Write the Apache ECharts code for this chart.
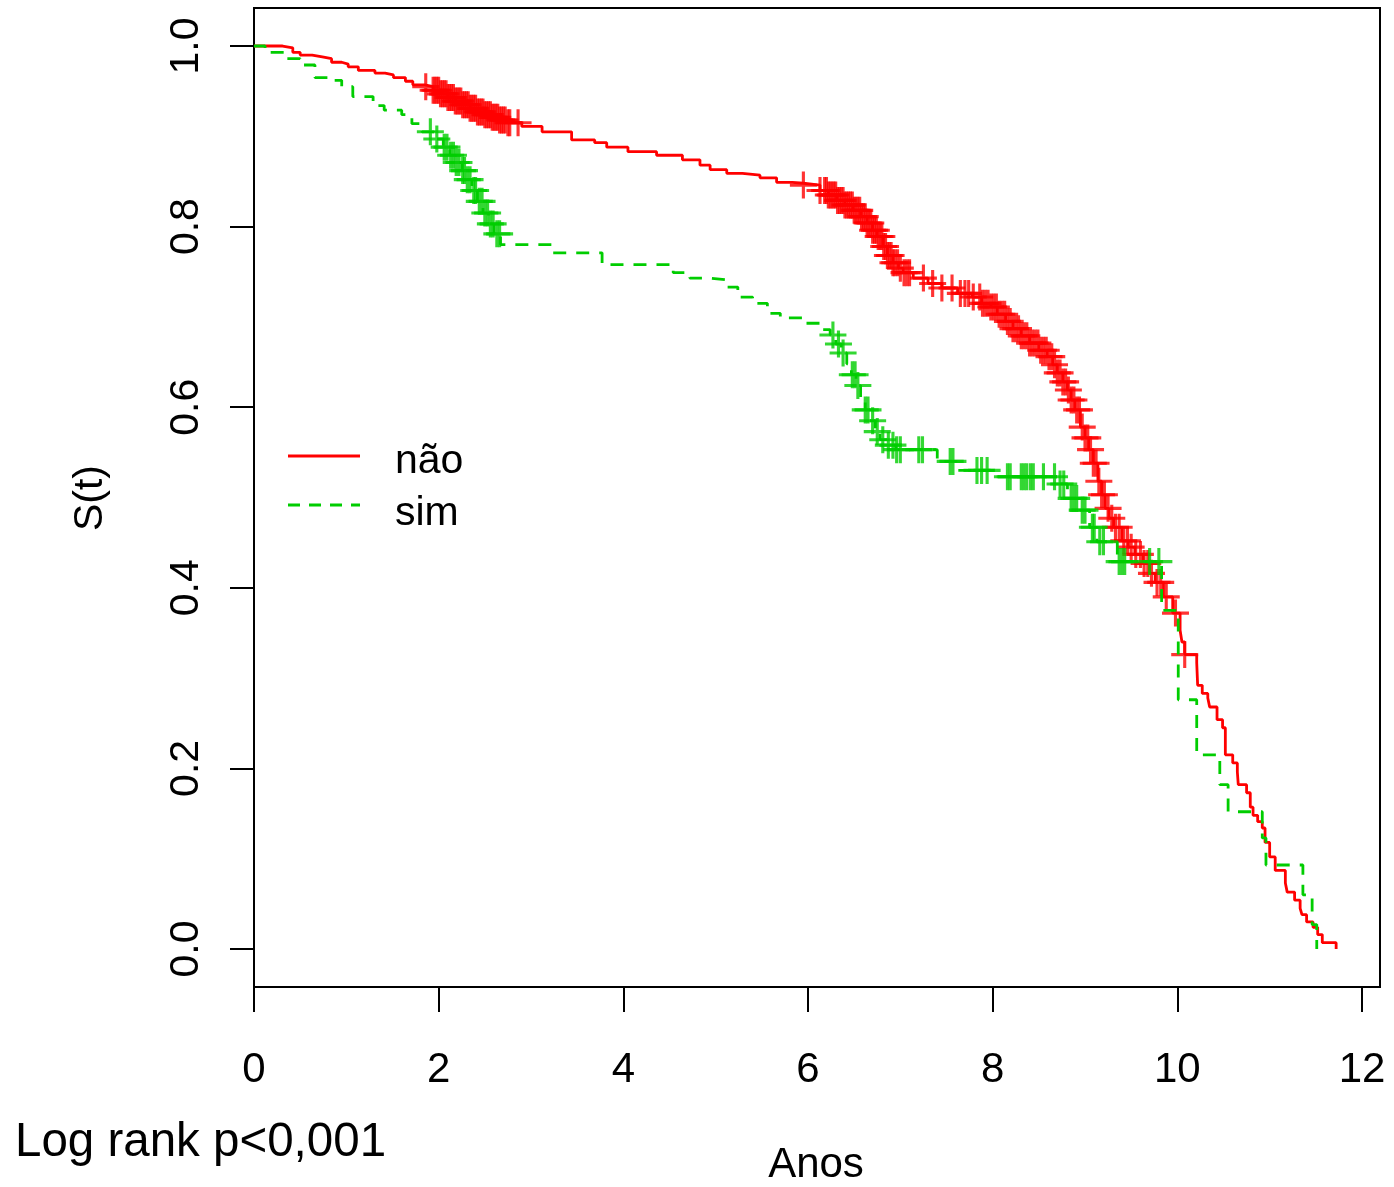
<!DOCTYPE html>
<html>
<head>
<meta charset="utf-8">
<script src="https://cdn.jsdelivr.net/npm/echarts@6/dist/echarts.min.js"></script>
<style>
html,body{margin:0;padding:0;background:#fff;}
#chart{width:1394px;height:1187px;}
</style>
</head>
<body>
<div id="chart"></div>
<script>
// ---- Data ----
var xTicks = [0, 2, 4, 6, 8, 10, 12];
var yTicks = [0, 0.2, 0.4, 0.6, 0.8, 1.0];
var groupNames = ['não', 'sim'];

// Kaplan-Meier steps, group "não"
var naoTime = [0,0.31,0.42,0.50,0.63,0.74,0.84,0.95,1.02,1.13,1.31,1.42,1.51,1.64,1.72,1.85,1.94,2.02,2.10,2.18,2.26,2.34,2.42,2.50,2.58,2.66,2.74,2.90,3.12,3.44,3.69,3.82,4.05,4.36,4.64,4.83,4.94,5.12,5.29,5.48,5.66,5.83,5.95,6.13,6.22,6.31,6.40,6.49,6.57,6.64,6.70,6.75,6.81,6.86,6.92,6.98,7.03,7.14,7.30,7.45,7.62,7.78,7.88,7.98,8.05,8.14,8.22,8.31,8.40,8.50,8.59,8.65,8.70,8.76,8.81,8.85,8.89,8.95,9.00,9.04,9.09,9.14,9.18,9.22,9.26,9.31,9.40,9.47,9.54,9.63,9.70,9.76,9.85,9.95,10.03,10.05,10.08,10.21,10.22,10.27,10.33,10.35,10.43,10.49,10.52,10.60,10.65,10.66,10.75,10.79,10.82,10.87,10.92,10.95,11.00,11.06,11.17,11.19,11.27,11.33,11.35,11.40,11.47,11.52,11.57,11.72];
var naoSurv = [1,0.998,0.993,0.990,0.988,0.986,0.982,0.980,0.977,0.973,0.970,0.968,0.965,0.961,0.957,0.955,0.951,0.947,0.943,0.939,0.935,0.931,0.927,0.924,0.921,0.918,0.915,0.911,0.905,0.896,0.893,0.888,0.883,0.879,0.874,0.868,0.863,0.859,0.857,0.854,0.849,0.848,0.846,0.840,0.835,0.829,0.824,0.818,0.811,0.804,0.796,0.789,0.778,0.768,0.760,0.754,0.749,0.743,0.737,0.732,0.726,0.722,0.715,0.711,0.703,0.695,0.687,0.679,0.671,0.663,0.656,0.647,0.638,0.628,0.619,0.608,0.597,0.578,0.566,0.553,0.538,0.518,0.503,0.488,0.477,0.467,0.452,0.445,0.437,0.427,0.416,0.406,0.390,0.372,0.353,0.340,0.326,0.317,0.292,0.283,0.278,0.268,0.254,0.245,0.215,0.206,0.196,0.182,0.173,0.157,0.148,0.141,0.134,0.118,0.102,0.087,0.073,0.063,0.054,0.045,0.038,0.030,0.024,0.016,0.007,0.000];

// Kaplan-Meier steps, group "sim"
var simTime = [0,0.12,0.36,0.50,0.66,0.80,0.95,1.07,1.29,1.41,1.60,1.71,1.82,1.95,2.05,2.12,2.18,2.25,2.30,2.36,2.42,2.48,2.54,2.60,2.67,3.23,3.77,4.54,4.72,4.92,5.12,5.24,5.40,5.56,5.70,5.94,6.13,6.24,6.30,6.36,6.42,6.47,6.52,6.57,6.62,6.67,6.73,6.78,6.86,6.95,7.40,7.62,8.02,8.70,8.81,8.95,9.05,9.13,9.35,9.83,10.01,10.21,10.46,10.55,10.92,10.96,11.36,11.46,11.51];
var simSurv = [1,0.993,0.986,0.979,0.965,0.962,0.955,0.944,0.934,0.929,0.924,0.914,0.905,0.897,0.888,0.879,0.871,0.862,0.852,0.840,0.828,0.815,0.803,0.792,0.780,0.771,0.758,0.749,0.743,0.741,0.733,0.722,0.715,0.704,0.699,0.693,0.686,0.680,0.670,0.660,0.648,0.636,0.624,0.611,0.597,0.585,0.573,0.564,0.558,0.553,0.540,0.530,0.523,0.515,0.499,0.486,0.467,0.451,0.429,0.375,0.276,0.215,0.182,0.152,0.123,0.093,0.060,0.027,0.000];

// censoring times
var naoCensor = [1.86,1.94,1.96,1.98,2.00,2.02,2.04,2.06,2.08,2.10,2.12,2.14,2.16,2.18,2.20,2.22,2.24,2.26,2.28,2.30,2.32,2.34,2.36,2.38,2.40,2.42,2.44,2.46,2.48,2.50,2.52,2.54,2.56,2.58,2.60,2.62,2.64,2.66,2.68,2.70,2.72,2.75,2.77,2.86,
  5.95,6.13,6.18,6.20,6.22,6.24,6.26,6.28,6.30,6.32,6.34,6.36,6.38,6.40,6.42,6.44,6.46,6.48,6.50,6.52,6.54,6.56,6.58,6.60,6.62,6.64,6.66,6.68,6.70,6.72,6.74,6.76,6.78,6.80,6.82,6.84,6.86,6.88,6.90,6.92,6.94,6.97,7.00,7.04,7.07,7.10,7.25,
  7.35,7.45,7.56,7.65,7.70,7.74,7.79,7.86,7.89,7.92,7.95,7.98,8.01,8.04,8.07,8.10,8.13,8.16,8.19,8.22,8.25,8.28,8.31,8.34,8.37,8.40,8.43,8.46,8.49,8.52,8.55,8.58,8.61,8.64,8.67,8.70,8.73,8.76,8.79,8.82,8.85,8.88,8.91,8.94,8.97,9.00,9.03,9.06,9.09,9.12,9.15,9.18,9.21,9.25,9.29,
  9.33,9.37,9.42,9.46,9.50,9.55,9.60,9.64,9.68,9.72,9.78,9.82,9.88,9.98,10.08];
var simCensor = [1.91,1.98,2.06,2.09,2.13,2.16,2.19,2.22,2.26,2.28,2.31,2.34,2.38,2.40,2.44,2.47,2.50,2.53,2.56,2.59,2.63,2.66,
  6.27,6.33,6.38,6.48,6.51,6.54,6.62,6.65,6.70,6.75,6.81,6.87,6.92,6.96,7.00,7.20,7.24,
  7.54,7.57,7.83,7.88,7.94,8.16,8.19,8.31,8.34,8.37,8.41,8.44,8.55,8.67,8.73,8.77,8.85,8.88,8.91,8.97,9.00,9.08,9.10,9.16,9.20,9.37,9.40,9.43,9.70,9.80];

// ---- Build ----
function zip(a, b) { var out = []; for (var i = 0; i < a.length; i++) out.push([a[i], b[i]]); return out; }
function survAt(times, surv, t) {
  var s = surv[0];
  for (var i = 0; i < times.length; i++) { if (times[i] <= t) s = surv[i]; }
  return s;
}
function censorPts(ct, times, surv) { return ct.map(function (t) { return [t, survAt(times, surv, t)]; }); }

var RED = '#FF0000', GREEN = '#00CD00';
var FONT = '"Liberation Sans", Arial, Helvetica, sans-serif';
var plusSym = 'path://M11.5,0h3v26h-3z M0,11.5h26v3h-26z';

var chart = echarts.init(document.getElementById('chart'), null, { renderer: 'canvas' });
chart.setOption({
  animation: false,
  backgroundColor: '#fff',
  grid: { left: 254, top: 8, width: 1126, height: 979, show: true, borderColor: '#000', borderWidth: 2, backgroundColor: 'transparent' },
  xAxis: {
    type: 'value', min: 0, max: 12.195,
    axisLine: { show: false, onZero: false },
    splitLine: { show: false },
    axisTick: { show: true, length: 25, customValues: xTicks, lineStyle: { color: '#000', width: 2 } },
    axisLabel: { customValues: xTicks, margin: 62, fontSize: 42, color: '#000', fontFamily: FONT,
      formatter: function (v) { return String(v); } }
  },
  yAxis: {
    type: 'value', min: -0.0421, max: 1.0421,
    axisLine: { show: false, onZero: false },
    splitLine: { show: false },
    axisTick: { show: true, length: 24, customValues: yTicks, lineStyle: { color: '#000', width: 2 } },
    axisLabel: { customValues: yTicks, rotate: 90, margin: 47, fontSize: 41, color: '#000', fontFamily: FONT,
      formatter: function (v) { return v.toFixed(1); } }
  },
  series: [
    { name: groupNames[0], type: 'line', step: 'end', data: zip(naoTime, naoSurv), symbol: 'none',
      lineStyle: { color: RED, width: 2.8 }, silent: true, z: 2 },
    { name: groupNames[0] + ' censor', type: 'scatter', data: censorPts(naoCensor, naoTime, naoSurv),
      symbol: plusSym, symbolSize: 27, itemStyle: { color: RED }, silent: true, z: 3 },
    { name: groupNames[1], type: 'line', step: 'end', data: zip(simTime, simSurv), symbol: 'none',
      lineStyle: { color: GREEN, width: 2.8, type: [13, 10] }, silent: true, z: 4 },
    { name: groupNames[1] + ' censor', type: 'scatter', data: censorPts(simCensor, simTime, simSurv),
      symbol: plusSym, symbolSize: 27, itemStyle: { color: GREEN }, silent: true, z: 5 }
  ],
  graphic: [
    { type: 'line', shape: { x1: 288, y1: 456, x2: 360, y2: 456 }, style: { stroke: RED, lineWidth: 2.8 } },
    { type: 'line', shape: { x1: 288, y1: 505, x2: 360, y2: 505 }, style: { stroke: GREEN, lineWidth: 2.8, lineDash: [12, 9] } },
    { type: 'text', x: 395, y: 462, style: { text: groupNames[0], font: '41px ' + FONT, fill: '#000', textAlign: 'left', textVerticalAlign: 'middle' } },
    { type: 'text', x: 395, y: 514, style: { text: groupNames[1], font: '41px ' + FONT, fill: '#000', textAlign: 'left', textVerticalAlign: 'middle' } },
    { type: 'text', x: 91, y: 498, rotation: Math.PI / 2, style: { text: 'S(t)', font: '41px ' + FONT, fill: '#000', textAlign: 'center', textVerticalAlign: 'middle' } },
    { type: 'text', x: 816, y: 1165, style: { text: 'Anos', font: '42px ' + FONT, fill: '#000', textAlign: 'center', textVerticalAlign: 'middle' } },
    { type: 'text', x: 15, y: 1143, style: { text: 'Log rank p<0,001', font: '47.5px ' + FONT, fill: '#000', textAlign: 'left', textVerticalAlign: 'middle' } }
  ]
});
</script>
</body>
</html>
